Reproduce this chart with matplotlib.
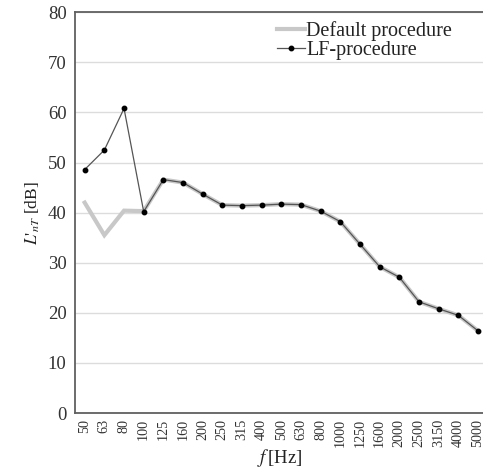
import matplotlib
matplotlib.use("Agg")
import matplotlib.pyplot as plt

# one-third octave bands
freqs = ["50", "63", "80", "100", "125", "160", "200", "250", "315", "400",
         "500", "630", "800", "1000", "1250", "1600", "2000", "2500", "3150",
         "4000", "5000"]
lf_proc = [48.6, 52.5, 60.8, 40.2, 46.6, 46.0, 43.7, 41.5, 41.4, 41.5,
           41.7, 41.6, 40.3, 38.2, 33.7, 29.2, 27.1, 22.2, 20.8, 19.5, 16.4]
default_proc = [42.0, 35.5, 40.4, 40.3, 46.6, 46.0, 43.7, 41.5, 41.4, 41.5,
                41.7, 41.6, 40.3, 38.2, 33.7, 29.2, 27.1, 22.2, 20.8, 19.5, 16.4]

plt.rcParams['font.family'] = ['Liberation Serif', 'DejaVu Serif']
plt.rcParams['mathtext.fontset'] = 'stix'

fig = plt.figure(figsize=(4.83, 4.69), dpi=100)
ax = fig.add_axes([0.155, 0.1194, 0.855, 0.8544])

x = list(range(len(freqs)))
ax.plot(x, default_proc, color='#c8c8c8', lw=3, label='Default procedure',
        solid_joinstyle='miter', zorder=2)
ax.plot(x, lf_proc, color='#555555', lw=0.9, marker='o', markersize=3.2,
        markerfacecolor='black', markeredgecolor='black',
        label='LF-procedure', zorder=3)

ax.set_xlim(-0.5, len(freqs) - 0.5)
ax.set_ylim(0, 80)
ax.set_yticks(range(0, 81, 10))
ax.set_xticks(x)
ax.set_xticklabels(freqs, rotation=90, fontsize=10.2, color='#333333')
ax.tick_params(axis='y', labelsize=13.5, colors='#333333', pad=6)
ax.tick_params(axis='x', pad=4)
ax.tick_params(length=0)
ax.yaxis.grid(True, color='#dcdcdc', lw=1)
ax.set_axisbelow(True)
for s in ['left', 'bottom', 'top']:
    ax.spines[s].set_color('#606060')
    ax.spines[s].set_linewidth(1.3)
ax.spines['right'].set_visible(False)

ax.set_ylabel(r"$L$'$_{nT}$ [dB]", fontsize=12.5, labelpad=4, color='#222222')
ax.set_xlabel(r"$f\,$[Hz]", fontsize=13.5, color='#222222')
ax.xaxis.set_label_coords(0.496, -0.084)

leg = ax.legend(loc='upper left', bbox_to_anchor=(0.467, 1.0), frameon=False,
                fontsize=14.5, handlelength=1.4, handletextpad=0.05,
                labelspacing=0.0, borderaxespad=0.05)
for t in leg.get_texts():
    t.set_color('#222222')

fig.savefig('out.png', dpi=100)
